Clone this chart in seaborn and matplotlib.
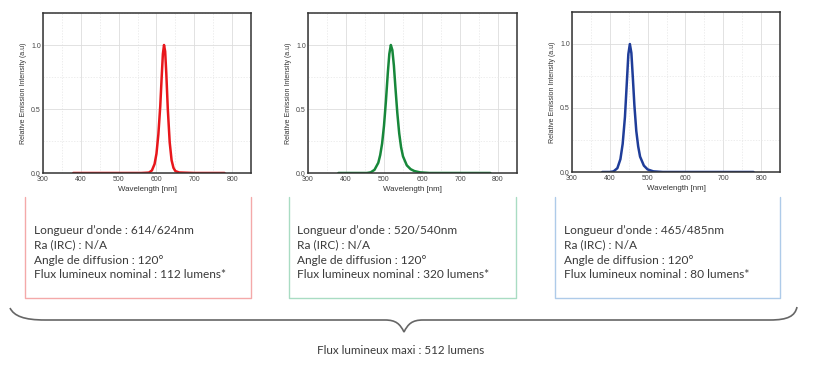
import matplotlib
matplotlib.use("Agg")
import matplotlib.pyplot as plt
import seaborn as sns
import pandas as pd
from matplotlib.lines import Line2D
from matplotlib.path import Path
from matplotlib.patches import PathPatch
from matplotlib.ticker import MultipleLocator

# spectra (wavelength in nm, relative intensity)
red_nm = [380, 560, 580, 588, 595, 600, 605, 610, 614, 617, 620, 623, 626, 630, 635, 640, 645, 650, 660, 700, 780]
red_int = [0, 0, 0.003, 0.02, 0.07, 0.15, 0.3, 0.52, 0.76, 0.93, 1.0, 0.95, 0.78, 0.5, 0.24, 0.1, 0.04, 0.015, 0.004, 0, 0]

green_nm = [380, 455, 465, 475, 485, 490, 495, 500, 505, 510, 514, 518, 522, 526, 530, 535, 540, 545, 550, 560, 570, 580, 595, 620, 780]
green_int = [0, 0, 0.005, 0.025, 0.08, 0.14, 0.23, 0.37, 0.56, 0.78, 0.93, 1.0, 0.96, 0.84, 0.67, 0.47, 0.31, 0.2, 0.13, 0.06, 0.03, 0.015, 0.005, 0, 0]

blue_nm = [380, 400, 410, 420, 428, 434, 440, 445, 449, 453, 457, 461, 465, 470, 475, 480, 490, 500, 515, 540, 780]
blue_int = [0, 0, 0.005, 0.03, 0.1, 0.22, 0.43, 0.7, 0.92, 1.0, 0.93, 0.73, 0.52, 0.32, 0.2, 0.12, 0.05, 0.02, 0.005, 0, 0]

line_colors = ["#e8161b", "#17873a", "#1f3d99"]
box_colors = ["#f4a9a9", "#a9dcc3", "#aecbe9"]

box_lines = [
    ["Longueur d\u2019onde : 614/624nm", "Ra (IRC) : N/A", "Angle de diffusion : 120\u00b0", "Flux lumineux nominal : 112 lumens*"],
    ["Longueur d\u2019onde : 520/540nm", "Ra (IRC) : N/A", "Angle de diffusion : 120\u00b0", "Flux lumineux nominal : 320 lumens*"],
    ["Longueur d\u2019onde : 465/485nm", "Ra (IRC) : N/A", "Angle de diffusion : 120\u00b0", "Flux lumineux nominal : 80 lumens*"],
]
total_label = "Flux lumineux maxi : 512 lumens"

x_ticks = [300, 400, 500, 600, 700, 800]
y_ticks = [0.0, 0.5, 1.0]

# layout in pixels (left, top, right, bottom)
W, H = 820, 366
axes_px = [(43, 13, 251, 173), (308, 13, 517, 173), (572, 12, 780, 172)]
boxes_px = [(25, 197, 251, 298), (289, 197, 516, 298), (555, 197, 780, 298)]


def fx(px):
    return px / W


def fy(py):
    return 1 - py / H


sns.set_style("white")
plt.rcParams["font.family"] = ["Liberation Sans", "DejaVu Sans"]

fig = plt.figure(figsize=(W / 100, H / 100), dpi=100)

spectra = [(red_nm, red_int), (green_nm, green_int), (blue_nm, blue_int)]
for i, ((nm, inten), (l, t, r, b)) in enumerate(zip(spectra, axes_px)):
    ax = fig.add_axes([fx(l), fy(b), fx(r) - fx(l), fy(t) - fy(b)])
    df = pd.DataFrame({"Wavelength": nm, "Intensity": inten})
    sns.lineplot(data=df, x="Wavelength", y="Intensity", color=line_colors[i],
                 linewidth=1.8, ax=ax)
    ax.set_xlim(300, 850)
    ax.set_ylim(0, 1.25)
    ax.set_xticks(x_ticks)
    ax.set_yticks(y_ticks)
    ax.set_yticklabels([f"{v:.1f}" for v in y_ticks])
    ax.xaxis.set_minor_locator(MultipleLocator(50))
    ax.yaxis.set_minor_locator(MultipleLocator(0.25))
    ax.grid(True, which="major", color="#dddddd", linewidth=0.6)
    ax.grid(True, which="minor", color="#e6e6e6", linewidth=0.5, linestyle=(0, (2, 2)))
    ax.tick_params(which="both", direction="in", colors="#333333", labelcolor="#444444",
                   labelsize=5)
    ax.tick_params(axis="x", pad=2.2)
    ax.tick_params(axis="y", pad=1.5)
    ax.tick_params(which="major", length=2, width=0.6)
    ax.tick_params(which="minor", length=1.5, width=0.6)
    ax.set_xlabel("Wavelength [nm]", fontsize=5.7, color="#333333", labelpad=2)
    ax.set_ylabel("Relative Emission Intensity (a.u)", fontsize=5, color="#333333", labelpad=3)
    for s in ax.spines.values():
        s.set_color("#333333")
        s.set_linewidth(1.1)

# info boxes (open at the top)
for i, (l, t, r, b) in enumerate(boxes_px):
    xs = [fx(l), fx(l), fx(r), fx(r)]
    ys = [fy(t), fy(b), fy(b), fy(t)]
    fig.add_artist(Line2D(xs, ys, color=box_colors[i], linewidth=1.0,
                          transform=fig.transFigure))
    for j, txt in enumerate(box_lines[i]):
        fig.text(fx(l + 8.5), fy(230 + 15 * j), txt, ha="left", va="center",
                 fontsize=8.6, color="#3a3a3a", family=["Lato", "DejaVu Sans"])

# brace under the three boxes
brace_px = [
    (10, 308), (14, 316), (24, 320), (45, 320),
    (385, 320),
    (396, 320), (400, 324), (404, 332),
    (408, 324), (412, 320), (423, 320),
    (770, 320),
    (788, 320), (795, 316), (797, 307),
]
codes = [Path.MOVETO, Path.CURVE4, Path.CURVE4, Path.CURVE4, Path.LINETO,
         Path.CURVE4, Path.CURVE4, Path.CURVE4, Path.CURVE4, Path.CURVE4, Path.CURVE4,
         Path.LINETO, Path.CURVE4, Path.CURVE4, Path.CURVE4]
brace = Path([(fx(x), fy(y)) for x, y in brace_px], codes)
fig.add_artist(PathPatch(brace, fill=False, edgecolor="#666666", linewidth=1.2,
                         transform=fig.transFigure))

fig.text(fx(401), fy(350), total_label, ha="center", va="center", fontsize=8.4,
         color="#3a3a3a", family=["Lato", "DejaVu Sans"])

fig.savefig("out.png", dpi=100)
